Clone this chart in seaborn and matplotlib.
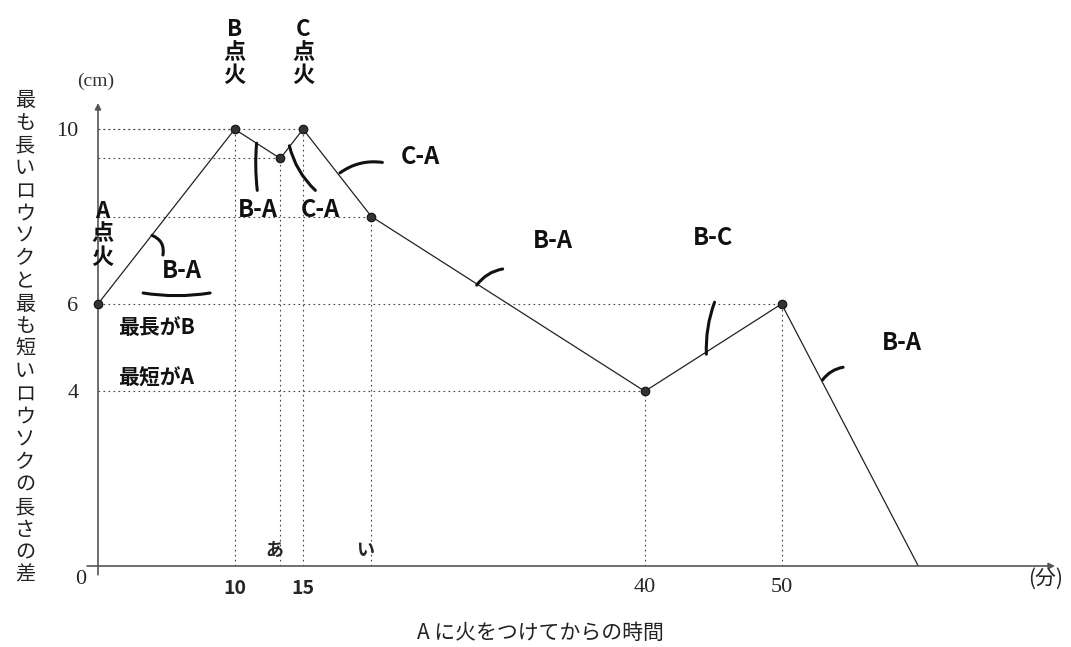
import matplotlib
matplotlib.use('Agg')
import matplotlib.pyplot as plt
import pandas as pd
import seaborn as sns

# graph data: minutes after A is lit vs. (longest - shortest) candle length
minutes = [0, 10, 13.33, 15, 20, 40, 50, 60]
diff_cm = [6, 10, 9.33, 10, 8, 4, 6, 0]
x_ticks = [10, 15, 40, 50]
x_tick_labels = ['10', '15', '40', '50']
y_ticks = [4, 6, 10]
y_tick_labels = ['4', '6', '10']
point_names = ['あ', 'い']
point_minutes = [13.33, 20]

y_title = '最も長いロウソクと最も短いロウソクの長さの差'
x_title = 'A に火をつけてからの時間'

# handwritten notes: (text, x, y)
notes = [
    ('A\n点\n火', 0.3, 7.6),
    ('B\n点\n火', 10, 11.75),
    ('C\n点\n火', 15, 11.75),
    ('B-A', 11.7, 8.15),
    ('C-A', 16.3, 8.15),
    ('C-A', 23.6, 9.36),
    ('B-A', 33.3, 7.45),
    ('B-C', 45.0, 7.5),
    ('B-A', 58.8, 5.1),
    ('B-A', 6.1, 6.75),
    ('最長がB', 1.5, 5.45),
    ('最短がA', 1.5, 4.3),
]
# short strokes that point at each segment, plus the underline
strokes = [
    ((3.95, 7.57), (4.75, 7.12), -0.4),
    ((11.6, 9.68), (11.65, 8.6), 0.05),
    ((14.0, 9.62), (15.9, 8.6), 0.15),
    ((17.7, 9.0), (20.8, 9.24), -0.2),
    ((27.7, 6.43), (29.6, 6.8), -0.2),
    ((44.5, 4.85), (45.1, 6.04), -0.1),
    ((53.0, 4.26), (54.5, 4.55), -0.2),
    ((3.3, 6.25), (8.2, 6.25), 0.08),
]

df = pd.DataFrame({'minutes': minutes, 'diff': diff_cm})

sns.set_style('white')
plt.rcParams['font.family'] = ['Noto Sans CJK JP', 'DejaVu Sans']

fig = plt.figure(figsize=(10.71, 6.47), dpi=100)
ax = fig.add_axes([98 / 1071, (647 - 566) / 647, (1055 - 98) / 1071, (566 - 103) / 647])
ax.set_xlim(0, 70)
ax.set_ylim(0, 10.6)
for s in ax.spines.values():
    s.set_visible(False)

# dotted guide lines
guide = dict(color='#444', lw=0.8, linestyle=(0, (1.5, 3)), zorder=1)
ax.vlines(minutes[1:-1], 0, diff_cm[1:-1], **guide)
ax.hlines(diff_cm[1:-1], 0, minutes[1:-1], **guide)

# the graph
sns.lineplot(data=df, x='minutes', y='diff', sort=False, color='#222', lw=0.9, ax=ax, zorder=3)
sns.scatterplot(data=df.iloc[:-1], x='minutes', y='diff', color='#333', s=38,
                edgecolor='#111', linewidth=0.8, ax=ax, zorder=4, clip_on=False)

# axes with arrows
arrow = dict(arrowstyle='-|>', lw=1.2, color='#555', mutation_scale=9, shrinkA=0, shrinkB=0)
ax.annotate('', xy=(70, 0), xytext=(-0.8, 0), arrowprops=arrow, annotation_clip=False)
ax.annotate('', xy=(0, 10.6), xytext=(0, -0.2), arrowprops=arrow, annotation_clip=False)

ax.set_xlabel('')
ax.set_ylabel('')
ax.set_xticks(x_ticks)
ax.set_xticklabels(x_tick_labels)
ax.set_yticks(y_ticks)
ax.set_yticklabels(y_tick_labels)
ax.tick_params(length=0)
ax.tick_params(axis='x', pad=9)
ax.tick_params(axis='y', pad=14)
for i, lbl in enumerate(ax.get_xticklabels()):
    if i < 2:
        lbl.set_fontfamily(['Noto Sans CJK JP', 'DejaVu Sans'])
        lbl.set_fontweight('bold')
        lbl.set_fontsize(14)
    else:
        lbl.set_fontfamily('Liberation Serif')
        lbl.set_fontsize(16)
for lbl in ax.get_yticklabels():
    lbl.set_fontfamily('Liberation Serif')
    lbl.set_fontsize(16)

ax.text(-1.3, -0.3, '0', ha='center', va='center', fontsize=16, family='Liberation Serif')
ax.text(-0.2, 11.1, '(cm)', ha='center', va='center', fontsize=14, family='Liberation Serif',
        color='#333')
ax.text(69.3, -0.3, '(分)', ha='center', va='center', fontsize=15, color='#222')

for name, m in zip(point_names, point_minutes):
    ax.text(m - 0.45, 0.35, name, ha='center', va='center', fontsize=13, fontweight='bold')

hand = dict(ha='center', va='center', fontsize=17, fontweight='bold', color='#111',
            linespacing=1.05)
for txt, x, y in notes:
    kw = dict(hand)
    if txt.startswith('最'):
        kw.update(ha='left', fontsize=15)
    if '\n' in txt:
        kw.update(fontsize=16, linespacing=1.0)
    ax.text(x, y, txt, **kw)

for p0, p1, rad in strokes:
    ax.annotate('', xy=p1, xytext=p0,
                arrowprops=dict(arrowstyle='-', lw=2.2, color='#111', shrinkA=0, shrinkB=0,
                                connectionstyle=f'arc3,rad={rad}'))

fig.text(25 / 1071, 1 - 338 / 647, '\n'.join(y_title), ha='center', va='center',
         fontsize=14.5, linespacing=1.1, color='#222')
fig.text(540 / 1071, 1 - 633 / 647, x_title, ha='center', va='center', fontsize=15,
         color='#222')

fig.savefig('out.png', dpi=100)
plt.close(fig)
